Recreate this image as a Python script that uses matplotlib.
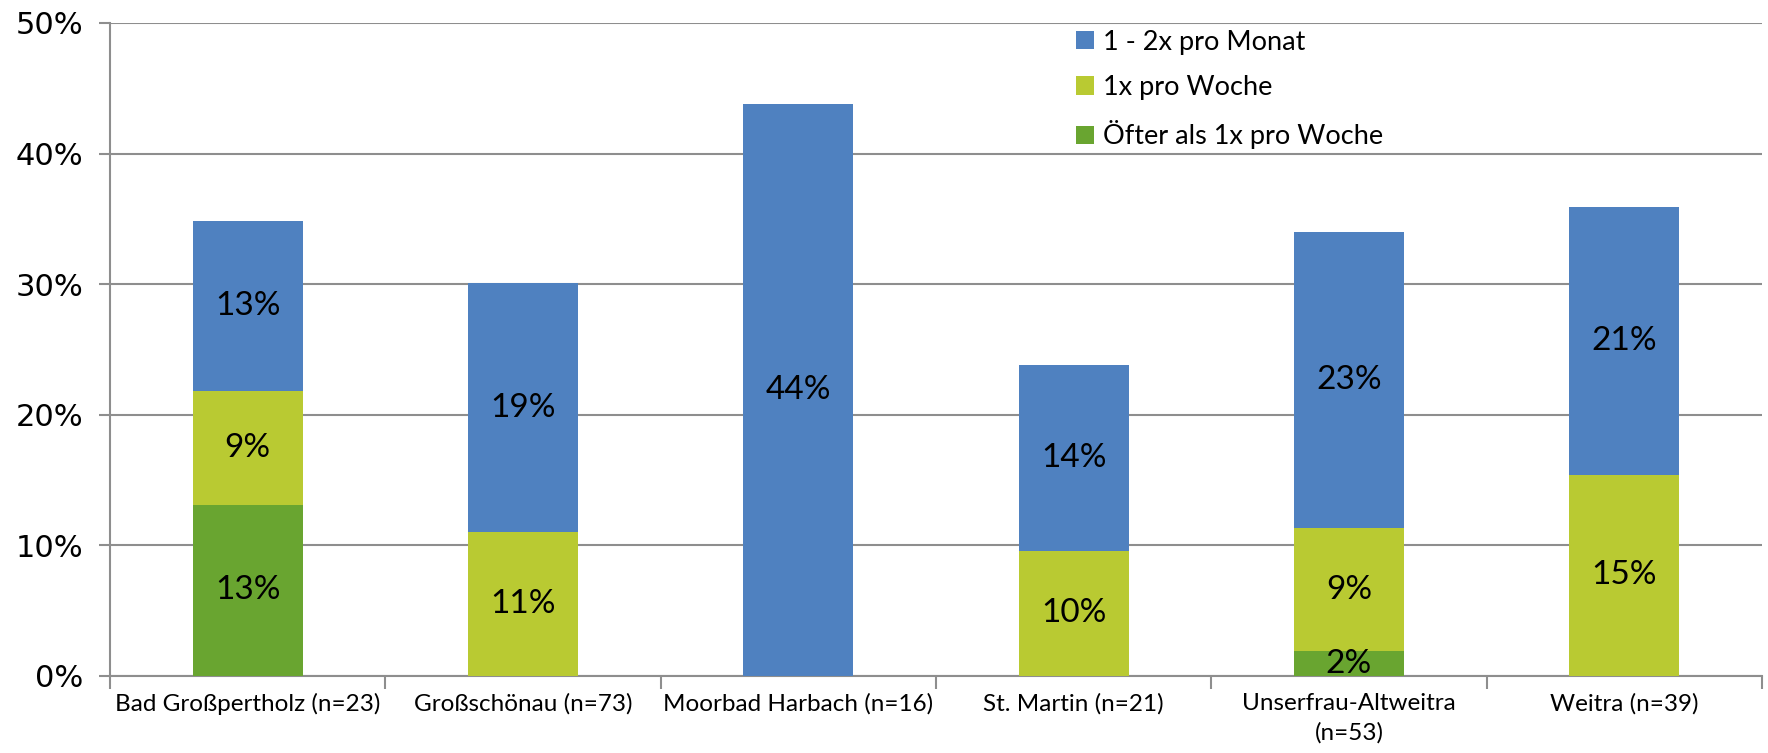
import numpy as np
import matplotlib
matplotlib.use('Agg')
from matplotlib import pyplot as plt

categories = ['Bad Großpertholz (n=23)', 'Großschönau (n=73)', 'Moorbad Harbach (n=16)',
              'St. Martin (n=21)', 'Unserfrau-Altweitra\n(n=53)', 'Weitra (n=39)']
oefter = [13.1, 0, 0, 0, 1.9, 0]
woche = [8.7, 11.0, 0, 9.6, 9.4, 15.4]
monat = [13.0, 19.1, 43.8, 14.2, 22.7, 20.5]
labels_oefter = ['13%', '', '', '', '2%', '']
labels_woche = ['9%', '11%', '', '10%', '9%', '15%']
labels_monat = ['13%', '19%', '44%', '14%', '23%', '21%']

c_monat = '#4F81C0'
c_woche = '#B9CA32'
c_oefter = '#69A530'
grid_c = '#8E8E8E'

fig = plt.figure(figsize=(17.68, 7.53), dpi=100)
ax = fig.add_axes([0.0622, 0.1023, 0.9344, 0.8672])

x = np.arange(len(categories))
w = 0.4
b1 = ax.bar(x, oefter, w, color=c_oefter, label='Öfter als 1x pro Woche', zorder=3)
b2 = ax.bar(x, woche, w, bottom=oefter, color=c_woche, label='1x pro Woche', zorder=3)
bot3 = np.array(oefter) + np.array(woche)
b3 = ax.bar(x, monat, w, bottom=bot3, color=c_monat, label='1 - 2x pro Monat', zorder=3)

lab_font = dict(family='Lato', fontsize=24, color='black', ha='center', va='center', zorder=4)
for i in range(len(x)):
    if labels_oefter[i]:
        ax.text(x[i], oefter[i] / 2, labels_oefter[i], **lab_font)
    if labels_woche[i]:
        ax.text(x[i], oefter[i] + woche[i] / 2, labels_woche[i], **lab_font)
    if labels_monat[i]:
        ax.text(x[i], bot3[i] + monat[i] / 2, labels_monat[i], **lab_font)

ax.set_xlim(-0.5, len(x) - 0.5)
ax.set_ylim(0, 50)
ax.set_yticks(np.arange(0, 51, 10))
ax.set_yticklabels([f'{v}%' for v in range(0, 51, 10)], family='DejaVu Sans', fontsize=22)
ax.yaxis.grid(True, color=grid_c, linewidth=1.5, zorder=0)
ax.tick_params(axis='y', length=8, width=1.5, color=grid_c, pad=11)

# category labels centred, ticks at category boundaries
ax.set_xticks(np.arange(-0.5, len(x), 1.0))
ax.set_xticklabels([])
ax.tick_params(axis='x', length=9, width=1.5, color=grid_c)
ax.set_xticks(x, minor=True)
ax.set_xticklabels(categories, minor=True, family='Lato', fontsize=17.5, linespacing=1.5, va='top')
ax.tick_params(axis='x', which='minor', length=0, pad=12)

for s in ['top', 'right']:
    ax.spines[s].set_visible(False)
for s in ['left', 'bottom']:
    ax.spines[s].set_color(grid_c)
    ax.spines[s].set_linewidth(1.5)

ax.legend(handles=[b3, b2, b1], loc='upper left', bbox_to_anchor=(0.570, 1.027),
          frameon=False, prop={'family': 'Lato', 'size': 19.5},
          handlelength=0.65, handleheight=0.65, handletextpad=0.35, labelspacing=0.75)

fig.savefig('out.png', dpi=100)
